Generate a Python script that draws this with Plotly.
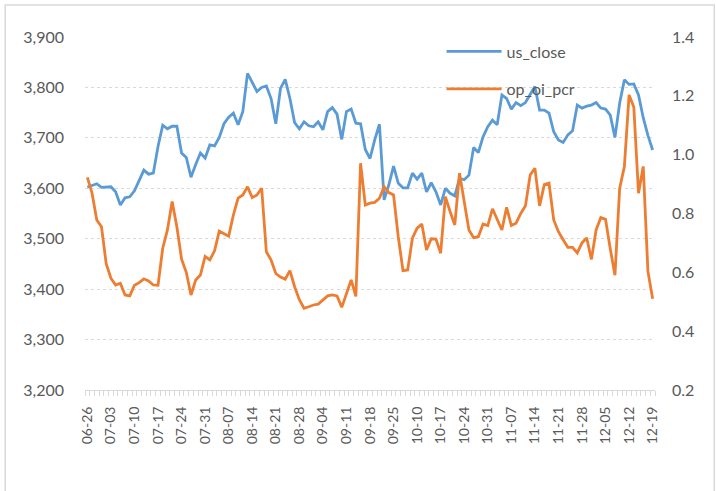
import pandas as pd
import plotly.graph_objects as go

# trading days 2023-06-26 .. 2023-12-19 (china calendar)
holidays = ["2023-09-29", "2023-10-02", "2023-10-03", "2023-10-04", "2023-10-05", "2023-10-06"]
dates = pd.bdate_range("2023-06-26", "2023-12-19")
dates = dates[~dates.isin(pd.to_datetime(holidays))]

us_close = [3602, 3605, 3609, 3602, 3603, 3603, 3593, 3567, 3581, 3583,
            3595, 3617, 3636, 3628, 3630, 3683, 3725, 3718, 3723, 3723,
            3670, 3661, 3622, 3647, 3670, 3660, 3686, 3684, 3701, 3728,
            3741, 3749, 3726, 3752, 3828, 3810, 3792, 3800, 3803, 3778,
            3728, 3798, 3816, 3778, 3730, 3718, 3732, 3724, 3722, 3732,
            3716, 3752, 3760, 3747, 3697, 3752, 3757, 3729, 3728, 3677,
            3659, 3696, 3727, 3577, 3607, 3644, 3610, 3601, 3601, 3630,
            3618, 3630, 3593, 3611, 3593, 3567, 3600, 3590, 3585, 3620,
            3617, 3626, 3681, 3671, 3702, 3722, 3735, 3726, 3785, 3778,
            3757, 3770, 3764, 3770, 3785, 3802, 3755, 3755, 3749, 3712,
            3696, 3691, 3706, 3714, 3765, 3759, 3763, 3765, 3770, 3759,
            3757, 3745, 3701, 3769, 3815, 3806, 3807, 3785, 3740, 3705,
            3676]

op_oi_pcr = [0.923, 0.869, 0.778, 0.755, 0.629, 0.580, 0.557, 0.563, 0.523, 0.520,
             0.556, 0.565, 0.578, 0.571, 0.557, 0.556, 0.682, 0.744, 0.841, 0.755,
             0.645, 0.600, 0.523, 0.574, 0.591, 0.654, 0.642, 0.673, 0.740, 0.730,
             0.723, 0.795, 0.852, 0.863, 0.891, 0.854, 0.863, 0.886, 0.670, 0.642,
             0.596, 0.584, 0.577, 0.606, 0.551, 0.507, 0.478, 0.483, 0.489, 0.492,
             0.507, 0.520, 0.523, 0.520, 0.481, 0.529, 0.574, 0.518, 0.971, 0.829,
             0.835, 0.838, 0.852, 0.891, 0.871, 0.863, 0.721, 0.606, 0.608, 0.716,
             0.750, 0.764, 0.676, 0.714, 0.713, 0.665, 0.857, 0.807, 0.761, 0.937,
             0.841, 0.744, 0.718, 0.721, 0.764, 0.759, 0.816, 0.781, 0.744, 0.821,
             0.759, 0.767, 0.800, 0.826, 0.931, 0.954, 0.826, 0.898, 0.903, 0.778,
             0.738, 0.711, 0.685, 0.685, 0.666, 0.700, 0.717, 0.644, 0.744, 0.786,
             0.780, 0.680, 0.590, 0.886, 0.960, 1.203, 1.162, 0.869, 0.960, 0.603,
             0.510]

idx = list(range(len(dates)))
labels = [d.strftime("%m-%d") for d in dates]

grey = "#595959"
fnt = "Lato"

fig = go.Figure()
fig.add_trace(go.Scatter(x=idx, y=us_close, name="us_close", mode="lines", showlegend=True,
                         line=dict(color="#5B9BD5", width=2.8), legend="legend"))
fig.add_trace(go.Scatter(x=idx, y=op_oi_pcr, name="op_oi_pcr", mode="lines", showlegend=True,
                         line=dict(color="#ED7D31", width=2.8), yaxis="y2", legend="legend2"))

fig.update_layout(
    width=716, height=491,
    showlegend=True,
    margin=dict(l=85, r=61, t=37, b=101),
    plot_bgcolor="white", paper_bgcolor="white",
    font=dict(family=fnt, color=grey, size=16),
    xaxis=dict(range=[-0.5, len(idx) - 0.5], tickvals=idx[::5], ticktext=labels[::5],
               tickangle=-90, tickfont=dict(size=14), ticks="", showgrid=False,
               showline=True, linecolor="#d9d9d9", linewidth=1, zeroline=False,
               ticklabelstandoff=10,
               minor=dict(ticks="outside", tick0=-0.5, dtick=1, ticklen=5,
                          tickcolor="#d9d9d9", showgrid=False)),
    yaxis=dict(range=[3200, 3900], dtick=100, tickformat=",", showgrid=True,
               gridcolor="#d9d9d9", griddash="dot", zeroline=False, ticks="",
               ticklabelstandoff=20),
    yaxis2=dict(range=[0.2, 1.4], dtick=0.2, tickformat=".1f", overlaying="y",
                side="right", showgrid=False, zeroline=False, ticks="",
                ticklabelstandoff=16),
    legend=dict(x=0.6255, y=0.959, xanchor="left", yanchor="middle",
                bgcolor="rgba(0,0,0,0)", itemwidth=55, font=dict(size=16, color=grey)),
    legend2=dict(x=0.6255, y=0.8525, xanchor="left", yanchor="middle",
                 bgcolor="rgba(0,0,0,0)", itemwidth=55, font=dict(size=16, color=grey)),
    shapes=[dict(type="rect", xref="paper", yref="paper", x0=-0.14, x1=1.104,
                 y0=-0.3, y1=1.091, line=dict(color="#d9d9d9", width=1.5),
                 fillcolor="rgba(0,0,0,0)", layer="above")],
)

fig.write_html("out.html", config={"displayModeBar": False},
               post_script="document.body.style.margin='0px';")
